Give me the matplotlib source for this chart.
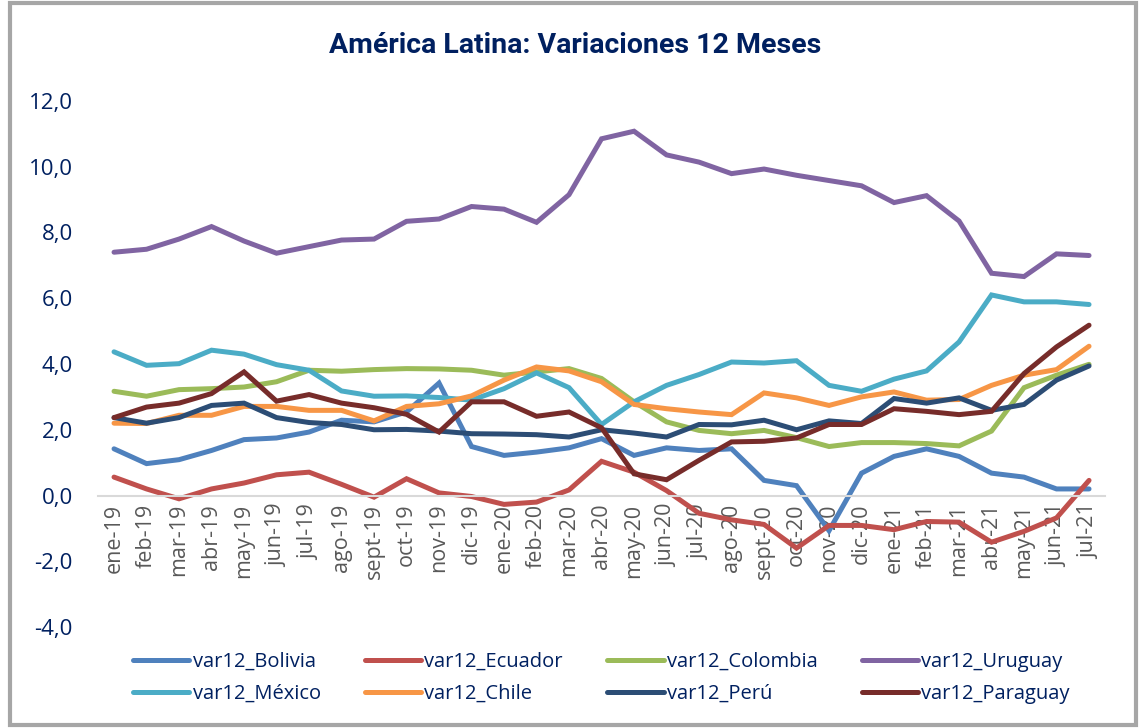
import matplotlib.pyplot as plt
from matplotlib.patches import Rectangle
from matplotlib.ticker import FuncFormatter, MultipleLocator

months = ["ene-19", "feb-19", "mar-19", "abr-19", "may-19", "jun-19", "jul-19", "ago-19",
          "sept-19", "oct-19", "nov-19", "dic-19", "ene-20", "feb-20", "mar-20", "abr-20",
          "may-20", "jun-20", "jul-20", "ago-20", "sept-20", "oct-20", "nov-20", "dic-20",
          "ene-21", "feb-21", "mar-21", "abr-21", "may-21", "jun-21", "jul-21"]

bolivia = [1.42, 0.97, 1.09, 1.37, 1.70, 1.75, 1.93, 2.29, 2.24, 2.54, 3.42, 1.49, 1.22, 1.32, 1.45, 1.73,
           1.22, 1.45, 1.37, 1.42, 0.46, 0.30, -1.07, 0.68, 1.19, 1.42, 1.19, 0.68, 0.56, 0.20, 0.20]
ecuador = [0.56, 0.20, -0.10, 0.20, 0.38, 0.63, 0.71, 0.34, -0.05, 0.51, 0.08, -0.03, -0.27, -0.20, 0.17, 1.04,
           0.71, 0.15, -0.54, -0.74, -0.88, -1.60, -0.91, -0.91, -1.04, -0.79, -0.81, -1.42, -1.09, -0.68, 0.46]
colombia = [3.17, 3.02, 3.22, 3.25, 3.30, 3.46, 3.81, 3.78, 3.83, 3.86, 3.85, 3.81, 3.66, 3.76, 3.86, 3.56,
            2.85, 2.24, 1.98, 1.88, 1.98, 1.76, 1.49, 1.61, 1.61, 1.58, 1.51, 1.96, 3.28, 3.66, 3.99]
uruguay = [7.40, 7.49, 7.80, 8.18, 7.74, 7.37, 7.57, 7.77, 7.80, 8.34, 8.41, 8.79, 8.71, 8.31, 9.15, 10.85,
           11.08, 10.36, 10.14, 9.79, 9.93, 9.74, 9.58, 9.42, 8.91, 9.12, 8.35, 6.76, 6.66, 7.35, 7.30]
mexico = [4.37, 3.96, 4.01, 4.42, 4.30, 3.98, 3.81, 3.18, 3.02, 3.03, 2.98, 2.90, 3.25, 3.73, 3.28, 2.16,
          2.85, 3.35, 3.68, 4.06, 4.03, 4.10, 3.35, 3.17, 3.54, 3.79, 4.67, 6.10, 5.89, 5.89, 5.81]
chile = [2.20, 2.19, 2.44, 2.44, 2.71, 2.71, 2.59, 2.59, 2.27, 2.71, 2.79, 3.03, 3.51, 3.91, 3.79, 3.46,
         2.77, 2.64, 2.54, 2.46, 3.12, 2.97, 2.74, 3.00, 3.15, 2.90, 2.92, 3.35, 3.66, 3.83, 4.54]
peru = [2.37, 2.20, 2.37, 2.74, 2.81, 2.37, 2.22, 2.16, 2.00, 2.01, 1.96, 1.88, 1.87, 1.85, 1.78, 2.00,
        1.90, 1.78, 2.16, 2.15, 2.29, 2.00, 2.27, 2.19, 2.95, 2.81, 2.97, 2.59, 2.77, 3.51, 3.94]
paraguay = [2.37, 2.69, 2.81, 3.10, 3.76, 2.87, 3.07, 2.81, 2.67, 2.47, 1.93, 2.85, 2.85, 2.41, 2.54, 2.06,
            0.66, 0.48, 1.07, 1.63, 1.65, 1.75, 2.16, 2.16, 2.64, 2.56, 2.46, 2.56, 3.71, 4.52, 5.18]

series = [
    ("var12_Bolivia", bolivia, "#4F81BD"),
    ("var12_Ecuador", ecuador, "#C0504D"),
    ("var12_Colombia", colombia, "#9BBB59"),
    ("var12_Uruguay", uruguay, "#8064A2"),
    ("var12_México", mexico, "#4BACC6"),
    ("var12_Chile", chile, "#F79646"),
    ("var12_Perú", peru, "#2C4D75"),
    ("var12_Paraguay", paraguay, "#772C2A"),
]

plt.rcParams['font.family'] = ['Open Sans', 'DejaVu Sans']

fig = plt.figure(figsize=(11.41, 7.28), dpi=100)
ax = fig.add_axes([0.0857, 0.1387, 0.883, 0.7226])

x = list(range(len(months)))
handles = {}
for name, vals, color in series:
    line, = ax.plot(x, vals, color=color, lw=3.6, solid_capstyle='round', solid_joinstyle='miter', label=name)
    handles[name] = line

ax.set_xlim(-0.5, len(months) - 0.5)
ax.set_ylim(-4, 12)

for s in ["top", "right", "left"]:
    ax.spines[s].set_visible(False)
ax.spines["bottom"].set_position(("data", 0))
ax.spines["bottom"].set_color("#d9d9d9")
ax.spines["bottom"].set_linewidth(1.5)
ax.set_axisbelow(True)

# ticks set after moving the spine (set_position resets them)
ax.yaxis.set_major_locator(MultipleLocator(2))
ax.yaxis.set_major_formatter(FuncFormatter(lambda v, p: f"{v:.1f}".replace(".", ",")))
ax.set_xticks(x)
ax.set_xticklabels(months)
ax.tick_params(axis="x", length=0, pad=6, labelsize=15.5, labelcolor="#595959", labelrotation=90)
ax.tick_params(axis="y", length=0, pad=18, labelsize=16, labelcolor="#002060")

fig.text(0.504, 0.937, "América Latina: Variaciones 12 Meses", ha="center", va="center",
         fontsize=20.5, fontweight="bold", color="#002060", family=["Roboto", "DejaVu Sans"])

order = ["var12_Bolivia", "var12_México", "var12_Ecuador", "var12_Chile",
         "var12_Colombia", "var12_Perú", "var12_Uruguay", "var12_Paraguay"]
leg = fig.legend([handles[n] for n in order], order, ncol=4, loc="center",
                 bbox_to_anchor=(0.527, 0.069), frameon=False, fontsize=14.5,
                 handlelength=2.8, handletextpad=0.15, columnspacing=2.2,
                 labelspacing=0.6)
for t in leg.get_texts():
    t.set_color("#002060")

# gray frame around the chart
fig.patches.append(Rectangle((10 / 1141, 3 / 728), 1126 / 1141, 722 / 728, transform=fig.transFigure,
                             fill=False, edgecolor="#a6a6a6", lw=3))

fig.savefig("out.png", dpi=100)
